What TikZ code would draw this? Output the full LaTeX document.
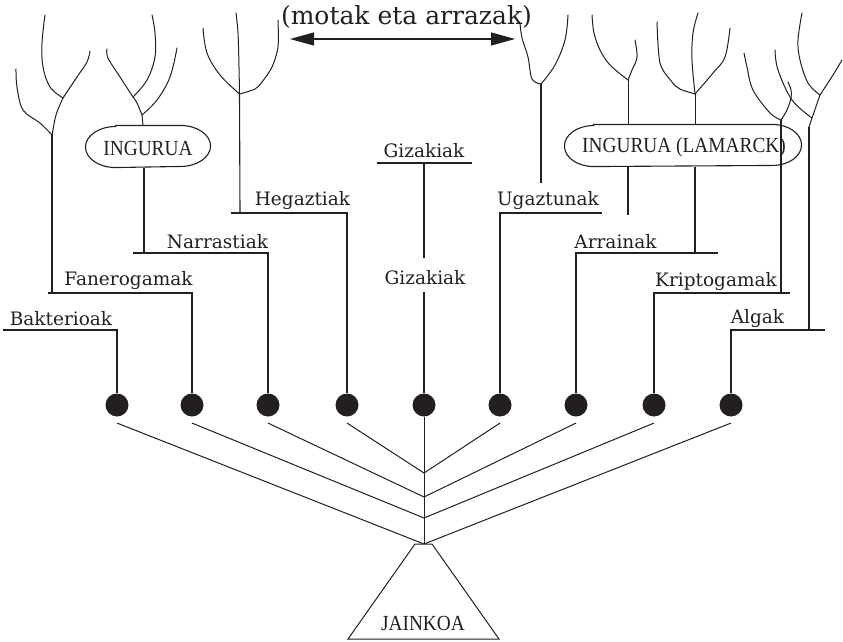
\documentclass[tikz,border=0pt]{standalone}
\usepackage{fontspec}
\setmainfont{DejaVu Serif}
\newfontfamily\tmsfont[FakeStretch=0.9]{Liberation Serif}
\usetikzlibrary{arrows.meta}
\definecolor{ink}{HTML}{231F20}
\begin{document}
\begin{tikzpicture}[x=1pt,y=-1pt,color=ink,line width=1.1pt,
  lbl/.style={font=\fontsize{18.5}{22}\selectfont, anchor=base, inner sep=0pt},
  ttl/.style={font=\fontsize{25}{30}\selectfont, anchor=base, inner sep=0pt},
  ovaltxt/.style={font=\tmsfont\fontsize{21.5}{25}\selectfont, inner sep=0pt},
  dot/.style={circle, fill=ink, minimum size=23pt, inner sep=0pt},
  branch/.style={line width=1pt, line cap=round, line join=round},
  fan/.style={line width=1pt}]
\useasboundingbox (0,0) rectangle (843,642);

% title and arrow
\node[ttl] (title) at (406.5,25) {(motak eta arrazak)};
\coordinate (arL) at (290,39);
\coordinate (arR) at (515,39);
\draw[line width=1.1pt,{Triangle[length=24pt,width=13pt]}-{Triangle[length=24pt,width=13pt]}] (arL) -- (arR);

% dots
\foreach \n/\x in {1/117,2/192,3/268,4/347,5/424,6/500,7/576,8/654,9/731}
  \node[dot] (d\n) at (\x,405) {};

% god triangle
\coordinate (apexL) at (415,544);
\coordinate (apexR) at (432,544);
\coordinate (baseR) at (499,639);
\coordinate (baseL) at (348,639);
\draw[fan] (apexL) -- (apexR) -- (baseR) -- (baseL) -- cycle;
\node[ovaltxt, anchor=base] (god) at (423,630) {JAINKOA};

% fan junctions
\coordinate (apex) at (424,544);
\coordinate (j1) at (424,518);
\coordinate (j2) at (424,497);
\coordinate (j3) at (424,473);
\draw[fan] (d5) -- (apex);
\draw[fan] ([yshift=-6pt]d1.south) -- (apex) -- ([yshift=-6pt]d9.south);
\draw[fan] ([yshift=-6pt]d2.south) -- (j1) -- ([yshift=-6pt]d8.south);
\draw[fan] ([yshift=-6pt]d3.south) -- (j2) -- ([yshift=-6pt]d7.south);
\draw[fan] ([yshift=-6pt]d4.south) -- (j3) -- ([yshift=-6pt]d6.south);

% labels
\node[lbl] (bak) at (61,325) {Bakterioak};
\node[lbl] (fane) at (128.5,285) {Fanerogamak};
\node[lbl] (narr) at (217.5,248) {Narrastiak};
\node[lbl] (hega) at (302.5,205) {Hegaztiak};
\node[lbl] (gizT) at (424,157) {Gizakiak};
\node[lbl] (gizM) at (425,284) {Gizakiak};
\node[lbl] (ugaz) at (548,205) {Ugaztunak};
\node[lbl] (arra) at (615.5,248) {Arrainak};
\node[lbl] (krip) at (716,286) {Kriptogamak};
\node[lbl] (alga) at (757.5,323) {Algak};

% label lines down to the dots
\coordinate (bakL) at (3,330);
\coordinate (fanL) at (48,293);
\coordinate (narL) at (133,253);
\coordinate (hegL) at (231,213);
\coordinate (ugaR) at (602,213);
\coordinate (arrR) at (718,253);
\coordinate (kriR) at (790,293);
\coordinate (algR) at (825,330);
\draw (bakL) -| (d1);
\draw (fanL) -| (d2);
\draw (narL) -| (d3);
\draw (hegL) -| (d4);
\draw (ugaR) -| (d6);
\draw (arrR) -| (d7);
\draw (kriR) -| (d8);
\draw (algR) -| (d9);
\coordinate (gzL) at (377,163);
\coordinate (gzR) at (472,163);
\coordinate (gzC) at (424,163);
\draw (gzL) -- (gzR);
\draw (gzC) -- (424,258);
\draw (424,292) -- (d5);

% ovals
\node[ovaltxt, minimum width=124pt, minimum height=41pt] (ing1) at (148,146.5) {};
\node[ovaltxt] (ing1t) at (148,148.5) {INGURUA};
\draw ([xshift=30pt]ing1.north west) -- ([xshift=-30pt]ing1.north east)
  arc[start angle=90,end angle=-90,x radius=30pt,y radius=20.5pt]
  -- ([xshift=30pt]ing1.south west)
  arc[start angle=270,end angle=90,x radius=30pt,y radius=20.5pt] -- cycle;
\node[ovaltxt, minimum width=236pt, minimum height=41pt] (lam) at (683,145.5) {};
\node[ovaltxt] (lamt) at (684,147.5) {INGURUA (LAMARCK)};
\draw ([xshift=29pt]lam.north west) -- ([xshift=-29pt]lam.north east)
  arc[start angle=90,end angle=-90,x radius=29pt,y radius=20.5pt]
  -- ([xshift=29pt]lam.south west)
  arc[start angle=270,end angle=90,x radius=29pt,y radius=20.5pt] -- cycle;

% trunks
\draw (52,293) -- (52,135);
\draw ([xshift=-4pt]ing1.south) -- ([xshift=-4pt]ing1.south |- narL);
\draw (240,213) -- (239.5,94);
\draw (541,183) -- (541,84);
\draw ([xshift=-55pt]lam.south) -- (628,215);
\draw ([xshift=12pt]lam.south) -- ([xshift=12pt]lam.south |- arrR);
\draw (781,293) -- (781,120);
\draw (809,330) -- (809,127);

% tree 1
\draw[branch] plot[smooth,tension=0.6] coordinates {(52,135) (40,123) (23,110) (17,87) (16,69)};
\draw[branch] plot[smooth,tension=0.6] coordinates {(52,136) (56,115) (63,98)};
\draw[branch] plot[smooth,tension=0.6] coordinates {(63,98) (50,87) (43,67) (42,43) (45,15)};
\draw[branch] plot[smooth,tension=0.6] coordinates {(63,98) (77,77) (87,62) (90,51)};
% tree 2
\draw[branch] ([xshift=-5pt]ing1.north) -- (142,115);
\draw[branch] plot[smooth,tension=0.6] coordinates {(142,115) (157,100) (170,77) (177,48)};
\draw[branch] plot[smooth,tension=0.6] coordinates {(142,115) (137,103) (133,97)};
\draw[branch] plot[smooth,tension=0.6] coordinates {(133,97) (120,77) (108,58) (107,49)};
\draw[branch] plot[smooth,tension=0.6] coordinates {(133,97) (147,80) (155,57) (155,33) (152,15)};
% tree 3
\draw[branch] plot[smooth,tension=0.6] coordinates {(239.5,94) (220,75) (207,53) (203,28)};
\draw[branch] plot[smooth,tension=0.6] coordinates {(239.5,94) (239,67) (238,33) (236,13)};
\draw[branch] plot[smooth,tension=0.5] coordinates {(239.5,94) (255,89) (262,82) (272,67) (278,47) (278,20)};
% tree 4
\draw[branch] plot[smooth,tension=0.6] coordinates {(541,84) (532,79) (528,57) (522,38) (520,23)};
\draw[branch] plot[smooth,tension=0.6] coordinates {(541,84) (555,65) (565,40) (568,15)};
% tree 5
\draw[branch] ([xshift=-55pt]lam.north) -- (628,80);
\draw[branch] plot[smooth,tension=0.6] coordinates {(628,80) (610,65) (600,50) (594,33) (592,15)};
\draw[branch] plot[smooth,tension=0.6] coordinates {(628,80) (632,70) (637,57) (635,40)};
% tree 6
\draw[branch] ([xshift=12pt]lam.north) -- (695,94);
\draw[branch] plot[smooth,tension=0.5] coordinates {(695,94) (680,89) (672,82) (660,63) (657,22)};
\draw[branch] plot[smooth,tension=0.6] coordinates {(695,94) (692,60) (693,33) (698,13)};
\draw[branch] plot[smooth,tension=0.6] coordinates {(695,94) (713,73) (725,57) (730,28)};
% tree 7
\draw[branch] plot[smooth,tension=0.6] coordinates {(781,120) (770,113) (753,90) (747,67) (744,53)};
\draw[branch] plot[smooth,tension=0.6] coordinates {(781,120) (787,110) (791,98) (791,90) (788,82)};
% tree 8
\draw[branch] plot[smooth,tension=0.6] coordinates {(809,127) (812,118) (820,95)};
\draw[branch] plot[smooth,tension=0.6] coordinates {(812,118) (792,100) (778,70) (775,50)};
\draw[branch] plot[smooth,tension=0.6] coordinates {(820,95) (808,83) (800,60) (798,40) (802,13)};
\draw[branch] plot[smooth,tension=0.6] coordinates {(820,95) (833,75) (842,60)};
\end{tikzpicture}
\end{document}
